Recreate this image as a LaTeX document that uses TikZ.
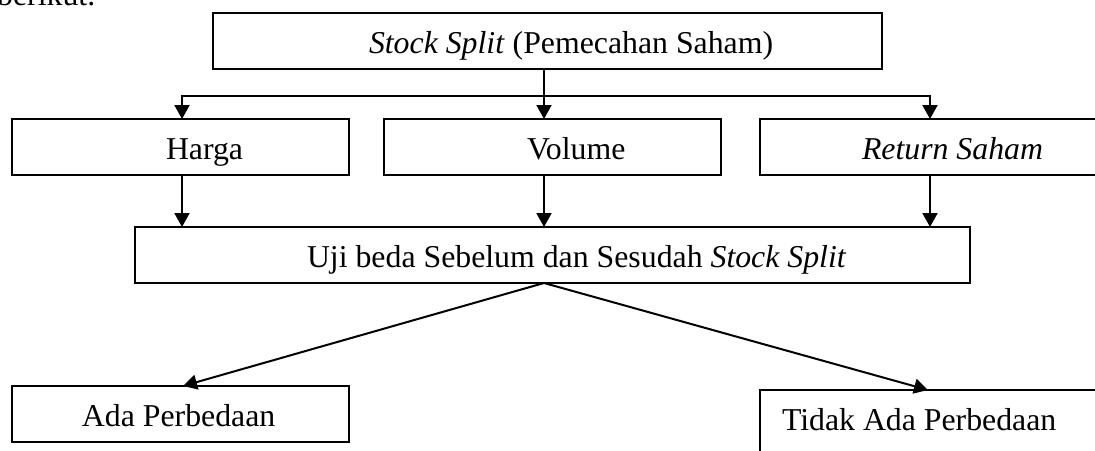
\documentclass[tikz,border=0pt]{standalone}
\usepackage{fontspec}
\setmainfont{Liberation Serif}
\usetikzlibrary{arrows.meta}
\begin{document}
\begin{tikzpicture}[x=1pt,y=-1pt,
  >={Triangle[length=14pt,width=15pt]},
  txt/.style={font=\fontsize{31.8}{38}\selectfont},
  box/.style={txt, draw, line width=2pt, inner sep=0pt, outer sep=0pt,
    anchor=north west, text height=40pt, text depth=16pt, minimum height=56pt},
  conn/.style={line width=2pt, ->},
  fork/.style={line width=2pt, <->, line join=miter}]
\useasboundingbox (0,0) rectangle (1095,450);
\clip (0,0) rectangle (1095,450);

% lead-in line of the paragraph above
\node[txt, anchor=base west, inner sep=0pt] (intro) at (-3,5) {berikut.};

% boxes
\node[box] (top) at (213,13)
  {\makebox[669pt][l]{\hspace*{156pt}\textit{Stock Split} (Pemecahan Saham)}};
\node[box] (harga) at (12,119) {\makebox[337pt][l]{\hspace*{154pt}Harga}};
\node[box] (volume) at (384,119) {\makebox[337pt][l]{\hspace*{143pt}Volume}};
\node[box] (ret) at (760,119) {\makebox[340pt][l]{\hspace*{102pt}\textit{Return Saham}}};
\node[box] (uji) at (135,227)
  {\makebox[835pt][l]{\hspace*{172pt}Uji beda Sebelum dan Sesudah \textit{Stock Split}}};
\node[box] (ada) at (12,386) {\makebox[337pt][l]{\hspace*{70pt}Ada Perbedaan}};
\node[box, text depth=30pt, minimum height=70pt] (tidak) at (760,390)
  {\makebox[340pt][l]{\hspace*{22pt}Tidak Ada Perbedaan}};

% branching points
\coordinate (mid) at (544,96);
\coordinate (hl) at (182,96);
\coordinate (hr) at (930,96);

% top level
\draw[conn] (top.south -| mid) -- (volume.north -| mid);
\draw[fork] (harga.north -| hl) -- (hl) -- (hr) -- (ret.north -| hr);

% into the test box
\draw[conn] (harga.south -| hl) -- (uji.north -| hl);
\draw[conn] (volume.south -| mid) -- (uji.north -| mid);
\draw[conn] (ret.south -| hr) -- (uji.north -| hr);

% outcomes
\draw[conn] (uji.south -| mid) -- ([xshift=2.5pt]ada.north);
\draw[conn] (uji.south -| mid) -- ([xshift=-2pt]tidak.north);
\end{tikzpicture}
\end{document}
